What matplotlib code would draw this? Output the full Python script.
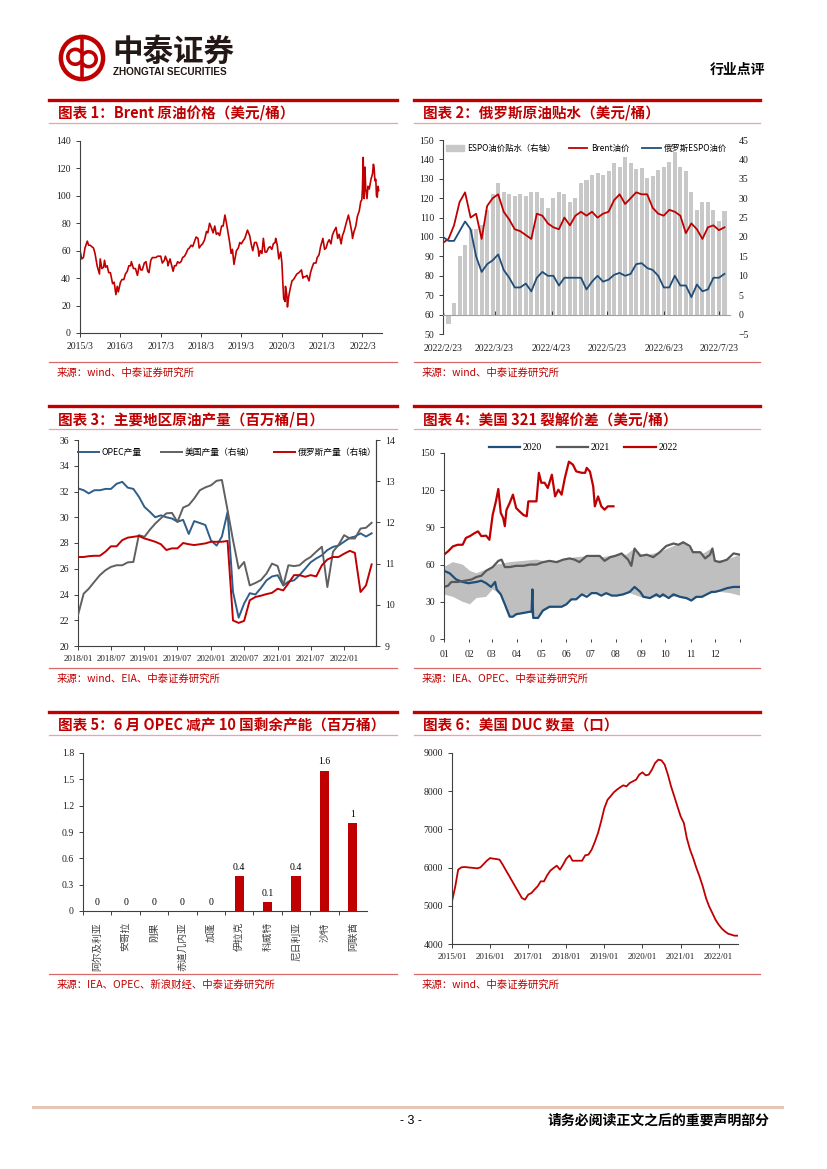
import numpy as np
import pandas as pd
import matplotlib
matplotlib.use('Agg')
import matplotlib.pyplot as plt
from matplotlib.patches import Circle, Patch, Arc
from matplotlib.lines import Line2D

plt.rcParams['font.family'] = ['Liberation Serif', 'Noto Sans CJK SC', 'DejaVu Sans']
plt.rcParams['font.size'] = 7
plt.rcParams['axes.linewidth'] = 0.8

W, H = 827, 1169
RED = '#C00000'
BLUE = '#1F4E79'
GRAY = '#595959'
CJK = ['Noto Sans CJK SC', 'DejaVu Sans']

# ---------------- data ----------------
# chart 1: Brent
brent_dates = [
    '2015-03-02', '2015-03-16', '2015-04-01', '2015-04-15', '2015-05-01', '2015-05-06', '2015-05-18', '2015-06-01',
    '2015-06-15', '2015-07-01', '2015-07-15', '2015-08-03', '2015-08-24', '2015-08-31', '2015-09-15', '2015-10-01',
    '2015-10-09', '2015-10-20', '2015-11-02', '2015-11-16', '2015-12-01', '2015-12-21',
    '2016-01-04', '2016-01-20', '2016-02-01', '2016-02-11', '2016-03-01', '2016-03-15', '2016-04-01', '2016-04-15',
    '2016-05-02', '2016-05-16', '2016-06-01', '2016-06-08', '2016-06-27', '2016-07-15', '2016-08-02', '2016-08-19',
    '2016-09-01', '2016-09-15', '2016-10-03', '2016-10-18', '2016-11-03', '2016-11-14', '2016-12-01', '2016-12-15',
    '2017-01-03', '2017-01-15', '2017-02-01', '2017-02-15', '2017-03-01', '2017-03-15', '2017-04-03', '2017-04-12',
    '2017-05-01', '2017-05-05', '2017-05-24', '2017-06-15', '2017-06-21', '2017-07-03', '2017-07-17', '2017-08-01',
    '2017-08-15', '2017-09-01', '2017-09-15', '2017-10-02', '2017-10-16', '2017-11-01', '2017-11-15', '2017-12-01',
    '2017-12-15',
    '2018-01-02', '2018-01-15', '2018-02-01', '2018-02-12', '2018-03-01', '2018-03-15', '2018-04-02', '2018-04-19',
    '2018-05-01', '2018-05-17', '2018-06-01', '2018-06-18', '2018-07-03', '2018-07-17', '2018-08-01', '2018-08-16',
    '2018-09-03', '2018-09-17', '2018-10-03', '2018-10-15', '2018-11-01', '2018-11-15', '2018-11-28', '2018-12-10',
    '2018-12-24',
    '2019-01-02', '2019-01-15', '2019-02-01', '2019-02-15', '2019-03-01', '2019-03-15', '2019-04-01', '2019-04-25',
    '2019-05-15', '2019-05-31', '2019-06-12', '2019-06-28', '2019-07-15', '2019-08-01', '2019-08-07', '2019-08-20',
    '2019-09-03', '2019-09-16', '2019-10-01', '2019-10-15', '2019-11-01', '2019-11-15', '2019-12-02', '2019-12-15',
    '2019-12-31',
    '2020-01-06', '2020-01-20', '2020-02-03', '2020-02-20', '2020-03-02', '2020-03-10', '2020-03-18', '2020-03-31',
    '2020-04-03', '2020-04-15', '2020-04-21', '2020-05-01', '2020-05-15', '2020-06-01', '2020-06-15', '2020-06-30',
    '2020-07-15', '2020-08-03', '2020-08-26', '2020-09-08', '2020-09-15', '2020-10-01', '2020-10-15', '2020-11-02',
    '2020-11-16', '2020-12-01', '2020-12-15',
    '2021-01-04', '2021-01-15', '2021-02-01', '2021-02-15', '2021-03-08', '2021-03-23', '2021-04-06', '2021-04-20',
    '2021-05-04', '2021-05-20', '2021-06-01', '2021-06-15', '2021-07-05', '2021-07-20', '2021-08-02', '2021-08-20',
    '2021-09-01', '2021-09-15', '2021-10-01', '2021-10-25', '2021-11-05', '2021-11-26', '2021-12-01', '2021-12-15',
    '2021-12-31',
    '2022-01-14', '2022-01-31', '2022-02-14', '2022-02-23', '2022-03-01', '2022-03-08', '2022-03-10', '2022-03-14',
    '2022-03-16', '2022-03-23', '2022-03-31', '2022-04-11', '2022-04-20', '2022-05-02', '2022-05-17', '2022-05-31',
    '2022-06-08', '2022-06-14', '2022-06-22', '2022-06-30', '2022-07-06', '2022-07-13', '2022-07-20', '2022-07-26']
brent_vals = [
    60, 54, 55, 62, 66, 67, 64, 64, 63, 62, 58, 49, 43, 54, 47, 48, 53, 48, 49, 44, 44, 36,
    37, 28, 34, 30, 37, 39, 39, 43, 45, 49, 49, 52, 47, 47, 42, 50, 46, 46, 51, 52, 45, 44, 53, 55,
    55, 55, 56, 56, 56, 51, 53, 56, 52, 49, 54, 47, 45, 49, 49, 52, 51, 52, 55, 56, 58, 61, 62, 64, 63,
    67, 70, 69, 62, 64, 65, 68, 74, 73, 80, 77, 73, 78, 72, 73, 71, 78, 78, 86, 81, 73, 66, 58, 61, 50,
    54, 60, 62, 66, 65, 67, 69, 75, 71, 64, 60, 66, 66, 61, 56, 60, 58, 69, 59, 59, 62, 63, 61, 65, 66,
    69, 64, 54, 59, 51, 37, 25, 23, 34, 28, 19, 26, 32, 38, 39, 41, 43, 44, 46, 40, 41, 41, 42, 38, 44, 48, 51,
    51, 55, 57, 63, 69, 61, 62, 66, 68, 65, 71, 74, 77, 69, 72, 65, 71, 74, 79, 86, 82, 73, 69, 74, 78,
    85, 89, 96, 97, 105, 128, 110, 103, 98, 121, 105, 98, 107, 105, 112, 116, 123, 121, 111, 112, 100, 99, 107, 104]

# chart 2: Russian ESPO discount, sampled every 3 days from 2022-02-23
espo_brent = [97, 99, 106, 118, 123, 110, 112, 99, 116, 120, 122, 113, 109, 104, 103, 101, 99, 112, 111, 107,
              105, 104, 110, 106, 111, 113, 111, 113, 110, 112, 113, 119, 122, 117, 120, 123, 122, 122, 115, 112,
              111, 114, 113, 111, 102, 107, 104, 99, 105, 106, 103.5, 105]
espo_price = [100, 98, 98, 103, 108, 104, 90, 82, 86, 88, 91, 83, 79, 74, 74, 76, 72, 79, 82, 80,
              80, 75, 79, 79, 79, 79, 73, 77, 80, 77, 78, 80.5, 81.5, 80, 81, 86, 86.5, 84, 83, 80,
              74, 74, 80, 75, 75, 69, 75.5, 72, 73, 79, 79, 81]
espo_spread = [0.5, -2.3, 3, 15, 18, 22, 22, 23, 27, 31, 34, 31.7, 31, 30.5, 31, 30.5, 31.7, 31.7, 30, 27.4,
               30, 31.5, 31, 29, 30, 34, 34.7, 36, 36.5, 36, 37, 39, 38, 40.7, 39, 37.5, 37.7, 35.3, 35.6, 37.3,
               38, 39.4, 42, 38, 37, 31.7, 27, 29, 29, 27, 24, 26.6]
espo_ticks = ['2022-02-23', '2022-03-23', '2022-04-23', '2022-05-23', '2022-06-23', '2022-07-23']
espo_ticklabels = ['2022/2/23', '2022/3/23', '2022/4/23', '2022/5/23', '2022/6/23', '2022/7/23']

# chart 3: production, monthly from 2018/01
opec_prod = [32.24, 32.1, 31.85, 32.1, 32.1, 32.2, 32.2, 32.6, 32.75, 32.3, 32.2, 31.6, 30.8, 30.4, 30.0, 30.15,
             30.0, 29.9, 29.65, 29.8, 28.7, 29.7, 29.55, 29.4, 28.2, 27.8, 28.5, 30.4, 24.2, 22.2, 23.3, 24.1,
             24.0, 24.5, 25.1, 25.4, 25.5, 24.7, 25.0, 25.1, 25.5, 26.0, 26.5, 26.8, 27.05, 27.45, 27.7, 27.8,
             28.1, 28.4, 28.5, 28.75, 28.5, 28.75]
us_prod = [9.75, 10.27, 10.39, 10.56, 10.72, 10.84, 10.92, 10.96, 10.96, 11.03, 11.04, 11.69, 11.65, 11.83, 11.97, 12.1,
           12.22, 12.23, 12.01, 12.36, 12.42, 12.58, 12.78, 12.85, 12.9, 13.01, 13.03, 12.3, 11.57, 10.88, 11.04, 10.47,
           10.53, 10.6, 10.76, 11.0, 10.94, 10.47, 10.96, 10.94, 10.96, 11.08, 11.16, 11.29, 11.41, 10.43, 11.29, 11.45,
           11.69, 11.61, 11.61, 11.85, 11.87, 11.99]
ru_prod = [11.16, 11.16, 11.18, 11.19, 11.19, 11.29, 11.42, 11.42, 11.57, 11.63, 11.65, 11.67, 11.61, 11.57, 11.53, 11.47,
           11.33, 11.37, 11.37, 11.50, 11.47, 11.45, 11.47, 11.49, 11.53, 11.53, 11.53, 11.55, 9.62, 9.56, 9.61, 10.11,
           10.19, 10.22, 10.26, 10.29, 10.39, 10.35, 10.52, 10.72, 10.72, 10.68, 10.72, 10.69, 10.96, 11.1, 11.16, 11.16,
           11.24, 11.31, 11.26, 10.31, 10.47, 10.98]
prod_ticklabels = ['2018/01', '2018/07', '2019/01', '2019/07', '2020/01', '2020/07', '2021/01', '2021/07', '2022/01']

# chart 4: 3-2-1 crack spread, by day of year
crack20_day = [0, 7, 15, 23, 30, 40, 46, 52, 58, 63, 65, 70, 75, 81, 85, 89, 98, 106, 108, 109, 110, 116, 122, 130,
               139, 145, 151, 157, 163, 170, 176, 182, 188, 194, 200, 207, 213, 221, 229, 235, 242, 246, 254, 262,
               266, 270, 277, 283, 291, 299, 305, 311, 318, 324, 330, 334, 340, 349, 357, 365]
crack20 = [55, 53, 48, 46, 45, 46, 47, 45, 42, 46, 40, 36, 28, 18, 18, 20, 21, 22, 22, 40, 17, 17, 23, 26,
           26, 26, 28, 32, 32, 36, 34, 37, 37, 35, 37, 35, 35, 36, 38, 42, 38, 34, 33, 36,
           34, 36, 33, 36, 34, 33, 31, 34, 34, 36, 38, 38, 39, 41, 42, 42]
crack21_day = [0, 5, 9, 17, 26, 34, 40, 46, 52, 60, 67, 71, 75, 81, 89, 98, 106, 114, 122, 130, 139, 147, 155, 161,
               167, 176, 184, 192, 198, 205, 211, 219, 227, 231, 235, 242, 250, 258, 266, 274, 283, 289, 295, 303,
               307, 316, 322, 328, 331, 334, 340, 349, 357, 365]
crack21 = [42, 43, 46, 46, 47, 48, 50, 51, 55, 58, 63, 64, 58, 58, 59, 59, 60, 60, 62, 63, 62, 64, 65, 64,
           62, 67, 67, 67, 63, 66, 67, 69, 64, 59, 73, 67, 68, 66, 70, 75, 77, 76, 78, 75,
           70, 70, 65, 68, 73, 63, 62, 64, 69, 68]
crack22_day = [0, 5, 11, 17, 23, 27, 32, 38, 42, 46, 52, 56, 60, 64, 67, 70, 73, 75, 77, 81, 85, 89, 93, 98, 102,
               104, 108, 114, 117, 120, 124, 128, 133, 137, 141, 145, 149, 154, 159, 163, 170, 174, 176, 180, 184,
               186, 190, 194, 198, 202, 209]
crack22 = [68, 70.7, 74.7, 76, 76, 81.5, 83, 85.5, 86.8, 83, 83.3, 80, 100, 111, 121, 101.6, 97.6, 91, 104, 109.7,
           116.4, 105.6, 103, 100, 99, 111, 111, 111, 134, 126, 126, 121.8, 132.5, 115, 120.4, 116.4, 129.8, 143,
           140.6, 135.2, 134, 134, 138, 135, 123, 107, 115, 107, 104.3, 107, 107]
band_hi_day = [0, 11, 23, 32, 40, 52, 65, 81, 98, 114, 130, 147, 163, 180, 196, 213, 225, 235, 246, 266, 287, 295,
               307, 320, 330, 334, 349, 365]
band_hi = [58, 62, 60, 55, 53, 56, 60, 62, 63, 64, 62, 64, 66, 67, 66, 68, 68, 73, 67, 70, 76, 78, 71, 69, 73, 63, 64, 68]
band_lo_day = [0, 11, 23, 32, 40, 52, 60, 65, 70, 75, 81, 89, 98, 106, 110, 116, 122, 130, 145, 157, 170, 182, 200,
               213, 229, 246, 266, 287, 305, 324, 340, 353, 365]
band_lo = [36, 34, 30, 28, 33, 34, 40, 38, 35, 28, 18, 19, 21, 22, 17, 17, 22, 25, 26, 31, 35, 37, 36,
           35, 37, 33, 34, 34, 31, 36, 38, 37, 35]
month_starts = [0, 31, 59, 90, 120, 151, 181, 212, 243, 273, 304, 334]
month_labels = ['01', '02', '03', '04', '05', '06', '07', '08', '09', '10', '11', '12']

# chart 5: spare capacity
countries = ['阿尔及利亚', '安哥拉', '刚果', '赤道几内亚', '加蓬', '伊拉克', '科威特', '尼日利亚', '沙特', '阿联酋']
spare = [0, 0, 0, 0, 0, 0.4, 0.1, 0.4, 1.6, 1]

# chart 6: DUC count, monthly from 2015/01
duc = [5117, 5500, 5946, 6007, 6016, 6007, 5998, 5990, 5980, 6007, 6094, 6180,
       6250, 6234, 6225, 6207, 6077, 5928, 5789, 5640, 5492, 5353, 5204, 5161,
       5292, 5335, 5422, 5510, 5640, 5640, 5797, 5920, 5990, 6050, 5946, 6077,
       6234, 6321, 6180, 6180, 6180, 6180, 6321, 6339, 6470, 6670, 6906, 7211,
       7560, 7778, 7866, 7970, 8040, 8101, 8153, 8127, 8215, 8258, 8302, 8433,
       8494, 8415, 8433, 8564, 8738, 8825, 8808, 8695, 8433, 8127, 7866, 7604,
       7342, 7167, 6775, 6470, 6250, 5990, 5771, 5510, 5204, 4986, 4811, 4637,
       4506, 4401, 4331, 4270, 4244, 4218, 4218]
duc_ticklabels = ['2015/01', '2016/01', '2017/01', '2018/01', '2019/01', '2020/01', '2021/01', '2022/01']

# ---------------- page ----------------
fig = plt.figure(figsize=(W / 100, H / 100), dpi=100)


def box(x0, y0, x1, y1):
    return fig.add_axes([x0 / W, 1 - y1 / H, (x1 - x0) / W, (y1 - y0) / H])


def hline(x0, x1, y, color, lw):
    fig.add_artist(Line2D([x0 / W, x1 / W], [1 - y / H, 1 - y / H], color=color, lw=lw))


def txt(x, y, s, **kw):
    fig.text(x / W, 1 - y / H, s, **kw)


def header(x0, x1, ytop, title, src, ysrc):
    hline(x0, x1, ytop, RED, 2.4)
    txt(x0 + 9, ytop + 13, title, color=RED, fontsize=10.5, fontweight='bold', family=CJK, va='center')
    hline(x0, x1, ytop + 23, '#E4A6A6', 0.9)
    hline(x0, x1, ysrc, '#D46A6A', 0.9)
    txt(x0 + 8, ysrc + 11, src, color=RED, fontsize=7.5, va='center', family=CJK)


def style(ax, spines=('left', 'bottom')):
    for s in ['left', 'right', 'top', 'bottom']:
        ax.spines[s].set_visible(s in spines)
        ax.spines[s].set_color('#404040')
    ax.tick_params(labelsize=7, length=3, width=0.6, colors='#202020')


# logo
logo = fig.add_axes([58 / W, 1 - 82 / H, 48 / W, 48 / H])
logo.set_xlim(-1, 1)
logo.set_ylim(-1, 1)
logo.set_aspect('equal')
logo.axis('off')
logo.add_patch(Circle((0, 0), 0.88, fill=False, ec=RED, lw=3.2))
logo.add_patch(Arc((-0.28, 0.05), 0.62, 0.62, theta1=30, theta2=330, color=RED, lw=2.6))
logo.add_patch(Arc((0.28, -0.05), 0.62, 0.62, theta1=210, theta2=510, color=RED, lw=2.6))
logo.plot([0, 0], [-0.78, 0.78], color=RED, lw=2.6)
txt(112, 52, '中泰证券', fontsize=22, fontweight='bold', family=CJK, color='#231815', va='center')
txt(113, 72, 'ZHONGTAI SECURITIES', fontsize=7.2, fontweight='bold', family=['Liberation Sans'],
    color='#231815', va='center')
txt(765, 70, '行业点评', fontsize=10, fontweight='bold', family=CJK, ha='right', va='center')

# headers
header(49, 397, 100, '图表 1：Brent 原油价格（美元/桶）', '来源：wind、中泰证券研究所', 362)
header(414, 760, 100, '图表 2：俄罗斯原油贴水（美元/桶）', '来源：wind、中泰证券研究所', 362)
header(49, 397, 406, '图表 3：主要地区原油产量（百万桶/日）', '来源：wind、EIA、中泰证券研究所', 668)
header(414, 760, 406, '图表 4：美国 321 裂解价差（美元/桶）', '来源：IEA、OPEC、中泰证券研究所', 668)
header(49, 397, 712, '图表 5：6 月 OPEC 减产 10 国剩余产能（百万桶）', '来源：IEA、OPEC、新浪财经、中泰证券研究所', 974)
header(414, 760, 712, '图表 6：美国 DUC 数量（口）', '来源：wind、中泰证券研究所', 974)

# ---- chart 1 ----
ax1 = box(80, 141, 382, 333)
style(ax1)
ax1.plot(pd.to_datetime(brent_dates), brent_vals, color=RED, lw=1.2)
ax1.set_ylim(0, 140)
ax1.set_yticks(range(0, 141, 20))
t1 = pd.to_datetime([f'{y}-03-01' for y in range(2015, 2023)])
ax1.set_xticks(t1)
ax1.set_xticklabels([f'{y}/3' for y in range(2015, 2023)])
ax1.set_xlim(pd.Timestamp('2015-03-01'), pd.Timestamp('2022-08-25'))

# ---- chart 2 ----
ax2 = box(443, 140, 730, 334)
ax2r = ax2.twinx()
style(ax2, ('left', 'bottom'))
style(ax2r, ())
d2 = pd.date_range('2022-02-23', periods=len(espo_brent), freq='3D')
ax2r.bar(d2, espo_spread, width=2.2, color='#C8C8C8', label='ESPO油价贴水（右轴）')
ax2.plot(d2, espo_brent, color=RED, lw=1.3)
ax2.plot(d2, espo_price, color=BLUE, lw=1.3)
ax2.set_zorder(ax2r.get_zorder() + 1)
ax2.patch.set_visible(False)
ax2.set_ylim(50, 150)
ax2.set_yticks(range(50, 151, 10))
ax2r.set_ylim(-5, 45)
ax2r.set_yticks(range(-5, 46, 5))
ax2r.tick_params(axis='y', length=0, pad=6)
ax2.spines['bottom'].set_position(('data', 60))
ax2.spines['bottom'].set_color('#A0A0A0')
ax2.set_xticks(pd.to_datetime(espo_ticks))
ax2.set_xticklabels(espo_ticklabels)
ax2.tick_params(axis='x', direction='in', pad=21)
ax2.set_xlim(pd.Timestamp('2022-02-23'), pd.Timestamp('2022-07-29'))
h2 = [Patch(color='#C8C8C8'), Line2D([], [], color=RED, lw=1.3), Line2D([], [], color=BLUE, lw=1.3)]
ax2.legend(h2, ['ESPO油价贴水（右轴）', 'Brent油价', '俄罗斯ESPO油价'], loc='upper center',
           bbox_to_anchor=(0.5, 1.02), ncol=3, frameon=False, handlelength=2.2,
           columnspacing=1.6, handletextpad=0.4, prop={'family': CJK, 'size': 6})

# ---- chart 3 ----
ax3 = box(78, 440, 376, 646)
ax3r = ax3.twinx()
style(ax3, ('left', 'bottom', 'right'))
style(ax3r, ('right',))
d3 = pd.date_range('2018-01-01', periods=len(opec_prod), freq='MS')
l1, = ax3.plot(d3, opec_prod, color='#2E5E8A', lw=1.4)
l2, = ax3r.plot(d3, us_prod, color='#606060', lw=1.4)
l3, = ax3r.plot(d3, ru_prod, color=RED, lw=1.4)
ax3.set_ylim(20, 36)
ax3.set_yticks(range(20, 37, 2))
ax3r.set_ylim(9, 14)
ax3r.set_yticks(range(9, 15))
ax3.set_xticks(pd.date_range('2018-01-01', periods=9, freq='6MS'))
ax3.set_xticklabels(prod_ticklabels, fontsize=6.5)
ax3.set_xlim(pd.Timestamp('2018-01-01'), pd.Timestamp('2022-06-25'))
ax3.legend([l1, l2, l3], ['OPEC产量', '美国产量（右轴）', '俄罗斯产量（右轴）'], loc='upper center',
           bbox_to_anchor=(0.5, 1.0), ncol=3, frameon=False, handlelength=2.4, columnspacing=2.2,
           handletextpad=0.3, prop={'family': CJK, 'size': 6.3})

# ---- chart 4 ----
ax4 = box(444, 453, 740, 639)
style(ax4, ('left',))
ax4.fill(np.r_[band_hi_day, band_lo_day[::-1]], np.r_[band_hi, band_lo[::-1]], color='#BFBFBF', lw=0)
k1, = ax4.plot(crack20_day, crack20, color='#1F4E79', lw=1.6)
k2, = ax4.plot(crack21_day, crack21, color='#595959', lw=1.6)
k3, = ax4.plot(crack22_day, crack22, color=RED, lw=1.6)
ax4.set_ylim(0, 150)
ax4.set_yticks(range(0, 151, 30))
ax4.set_xlim(0, 365)
ax4.set_xticks(month_starts + [365])
ax4.set_xticklabels(month_labels + [''])
ax4.tick_params(axis='x', length=2, pad=6)
ax4.legend([k1, k2, k3], ['2020', '2021', '2022'], loc='center', bbox_to_anchor=(0.47, 1.03), ncol=3,
           frameon=False, handlelength=3.2, columnspacing=1.5, handletextpad=0.3, fontsize=7)

# ---- chart 5 ----
ax5 = box(83, 753, 367, 911)
style(ax5)
xs = np.arange(len(countries))
ax5.bar(xs, spare, width=0.32, color=RED)
for x, v in zip(xs, spare):
    ax5.text(x, v + 0.05, f'{v:g}', ha='center', va='bottom', fontsize=7)
ax5.set_ylim(0, 1.8)
ax5.set_yticks(np.round(np.arange(0, 1.81, 0.3), 1))
ax5.set_yticklabels(['0', '0.3', '0.6', '0.9', '1.2', '1.5', '1.8'])
ax5.set_xlim(-0.5, len(countries) - 0.5)
ax5.set_xticks(xs - 0.5, minor=False)
ax5.set_xticklabels([])
for x, c in zip(xs, countries):
    ax5.text(x, -0.07, c, rotation=90, ha='center', va='top', fontsize=7, family=CJK,
             transform=ax5.get_xaxis_transform(), color='#404040')
ax5.tick_params(axis='x', length=3)

# ---- chart 6 ----
ax6 = box(452, 753, 738, 944)
style(ax6)
d6 = pd.date_range('2015-01-01', periods=len(duc), freq='MS')
ax6.plot(d6, duc, color=RED, lw=1.3)
ax6.set_ylim(4000, 9000)
ax6.set_yticks(range(4000, 9001, 1000))
ax6.set_xticks(pd.to_datetime([f'{y}-01-01' for y in range(2015, 2023)]))
ax6.set_xticklabels(duc_ticklabels, fontsize=6.5)
ax6.set_xlim(pd.Timestamp('2015-01-01'), pd.Timestamp('2022-07-05'))

# footer
hline(33, 782, 1107, '#E8C6B4', 2.2)
txt(411, 1121, '- 3 -', fontsize=9, ha='center', va='center', family=['Liberation Sans'])
txt(770, 1121, '请务必阅读正文之后的重要声明部分', fontsize=10, fontweight='bold', family=CJK,
    ha='right', va='center')

fig.savefig('out.png', dpi=100)
